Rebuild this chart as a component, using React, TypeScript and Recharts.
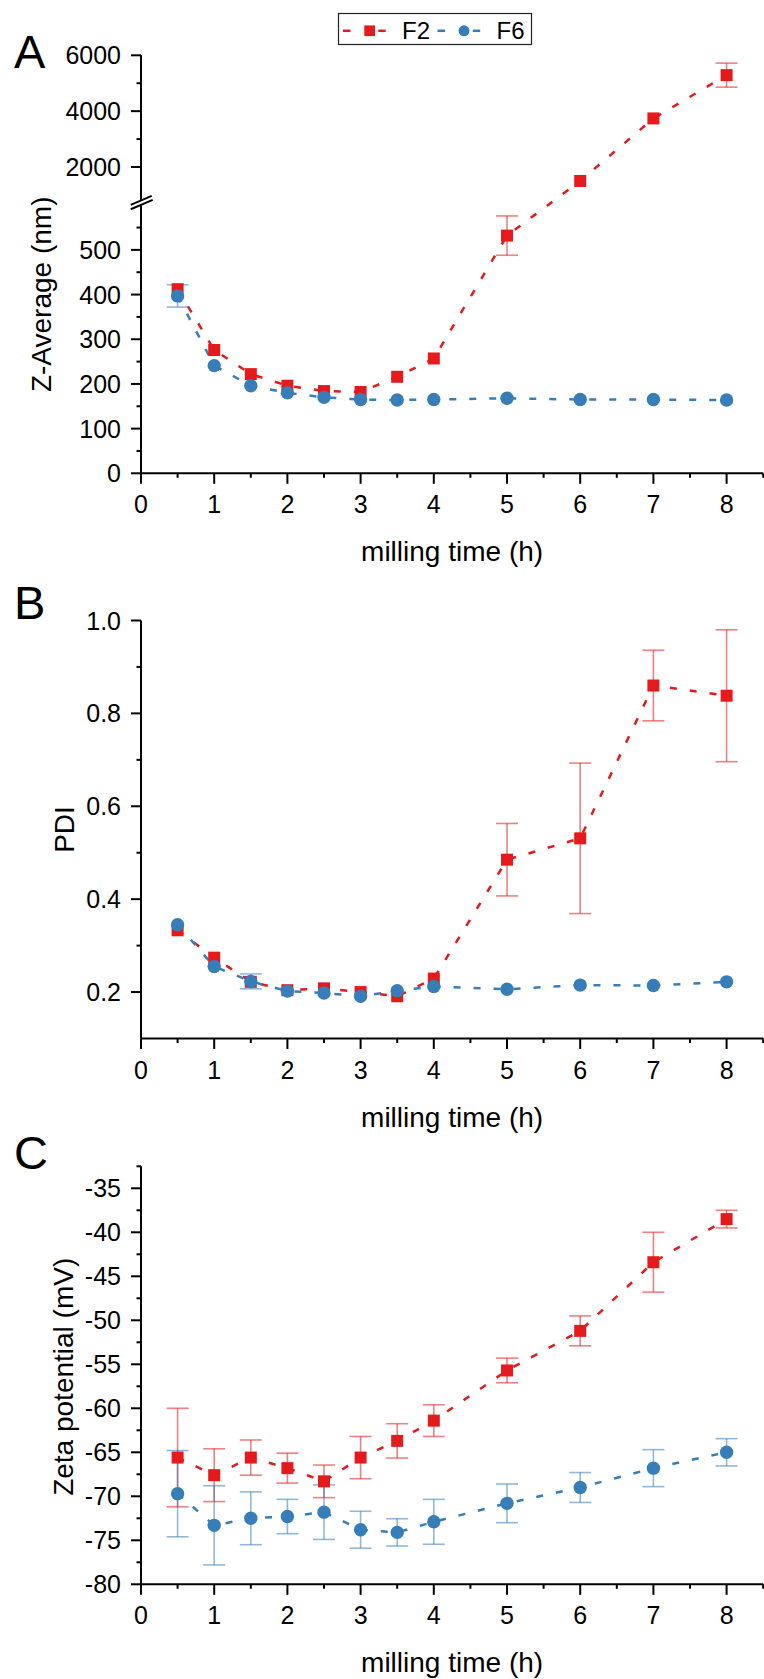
import type { ReactElement, ReactNode } from 'react';
import { ErrorBar, Line, LineChart, ReferenceLine, XAxis, YAxis } from 'recharts';

// milling time (h), shared by all three panels
const hours = [0.5, 1, 1.5, 2, 2.5, 3, 3.5, 4, 5, 6, 7, 8];

// A: Z-Average (nm); error 0 = hidden behind the marker
const zAvgF2 = [412, 276, 222, 196, 184, 182, 216, 257, 532, 1500, 3740, 5290];
const zAvgF2Err = [0, 0, 0, 0, 0, 0, 0, 0, 44, 0, 0, 430];
const zAvgF6 = [397, 241, 196, 180, 170, 165, 164, 165, 168, 165, 165, 164];
const zAvgF6Err = [25, 0, 0, 0, 0, 0, 0, 0, 0, 0, 0, 0];

// B: PDI
const pdiF2 = [0.333, 0.274, 0.222, 0.204, 0.208, 0.2, 0.191, 0.229, 0.485, 0.531, 0.86, 0.838];
const pdiF2Err = [0, 0, 0, 0, 0, 0, 0, 0, 0.078, 0.162, 0.076, 0.142];
const pdiF6 = [0.345, 0.255, 0.223, 0.202, 0.198, 0.191, 0.203, 0.212, 0.206, 0.215, 0.214, 0.222];
const pdiF6Err = [0, 0, 0.016, 0, 0, 0, 0, 0, 0, 0, 0, 0];

// C: Zeta potential (mV)
const zetaF2 = [-65.6, -67.6, -65.6, -66.8, -68.3, -65.6, -63.7, -61.4, -55.7, -51.2, -43.4, -38.5];
const zetaF2Err = [5.6, 3.0, 2.0, 1.7, 1.85, 2.4, 1.95, 1.8, 1.4, 1.7, 3.4, 1.0];
const zetaF6 = [-69.7, -73.3, -72.5, -72.3, -71.8, -73.8, -74.1, -72.9, -70.8, -69.0, -66.8, -65.0];
const zetaF6Err = [4.9, 4.5, 3.0, 1.95, 3.1, 2.1, 1.55, 2.55, 2.2, 1.7, 2.1, 1.55];

// tick values
const xTicks = [0, 0.5, 1, 1.5, 2, 2.5, 3, 3.5, 4, 4.5, 5, 5.5, 6, 6.5, 7, 7.5, 8, 8.5];
const zTicks = [0, 50, 100, 150, 200, 250, 300, 350, 400, 450, 500, 550, 2000, 3000, 4000, 5000, 6000];
const zLabelled = [0, 100, 200, 300, 400, 500, 2000, 4000, 6000];
const pdiTicks = [0.2, 0.3, 0.4, 0.5, 0.6, 0.7, 0.8, 0.9, 1.0];
const zetaTicks = [-80, -77.5, -75, -72.5, -70, -67.5, -65, -62.5, -60, -57.5, -55, -52.5, -50, -47.5, -45, -42.5, -40, -37.5, -35, -32.5];

const RED = '#E41A1C';
const BLUE = '#377EB8';
const FONT = '"Liberation Sans", Arial, Helvetica, sans-serif';

const PLOT_H = 418;
const Y_AXIS_W = 141;
const X_MAX = 8.5;

// broken y axis for panel A: 0-600 linear, then 1000-6000 compressed 16x
const BREAK_LOW = 600;
const BREAK_HIGH = 1000;
const BREAK_GAP = 23;
const UPPER_SCALE = 1 / 16;
const toBroken = (v: number) =>
  v <= BREAK_LOW ? v : BREAK_LOW + BREAK_GAP + (v - BREAK_HIGH) * UPPER_SCALE;
const fromBroken = (d: number) =>
  d <= BREAK_LOW ? d : BREAK_HIGH + (d - BREAK_LOW - BREAK_GAP) / UPPER_SCALE;

type Row = { x: number; f2: number; f2e?: number[]; f6: number; f6e?: number[] };

function buildRows(
  f2: number[],
  f2e: number[],
  f6: number[],
  f6e: number[],
  tf: (v: number) => number = (v) => v,
): Row[] {
  const errPair = (v: number, e: number) =>
    e > 0 ? [tf(v) - tf(v - e), tf(v + e) - tf(v)] : undefined;
  return hours.map((x, i) => ({
    x,
    f2: tf(f2[i]),
    f2e: errPair(f2[i], f2e[i]),
    f6: tf(f6[i]),
    f6e: errPair(f6[i], f6e[i]),
  }));
}

const zRows = buildRows(zAvgF2, zAvgF2Err, zAvgF6, zAvgF6Err, toBroken);
const pdiRows = buildRows(pdiF2, pdiF2Err, pdiF6, pdiF6Err);
const zetaRows = buildRows(zetaF2, zetaF2Err, zetaF6, zetaF6Err);

function XTick(props: any): ReactElement {
  const { x, y, payload } = props;
  const v = payload.value as number;
  const major = Number.isInteger(v);
  return (
    <g>
      <line x1={x} x2={x} y1={y} y2={y + (major ? 10.5 : 4.5)} stroke="#000" strokeWidth={2} />
      {major && (
        <text x={x} y={y + 40} textAnchor="middle" fontSize={25} fontFamily={FONT} fill="#000">
          {v}
        </text>
      )}
    </g>
  );
}

function makeYTick(isMajor: (v: number) => boolean, format: (v: number) => string) {
  return (props: any): ReactElement => {
    const { x, y, payload } = props;
    const v = payload.value as number;
    const major = isMajor(v);
    return (
      <g>
        <line x1={x - (major ? 10 : 4.5)} x2={x} y1={y} y2={y} stroke="#000" strokeWidth={2} />
        {major && (
          <text x={x - 20} y={y + 9} textAnchor="end" fontSize={25} fontFamily={FONT} fill="#000">
            {format(v)}
          </text>
        )}
      </g>
    );
  };
}

const squareDot = (p: any) => (
  <rect key={`s${p.index}`} x={p.cx - 6} y={p.cy - 6} width={12} height={12} fill={RED} />
);
const circleDot = (p: any) => (
  <circle key={`c${p.index}`} cx={p.cx} cy={p.cy} r={6.7} fill={BLUE} />
);

interface PanelProps {
  top: number;
  height: number;
  marginTop: number;
  data: Row[];
  yDomain: [number, number];
  yTicks: number[];
  yTick: (props: any) => ReactElement;
  yTitle: string;
  yTitleX: number;
  yTitleDy: number;
  yAxisLine?: boolean;
  children?: ReactNode;
}

function Panel({
  top,
  height,
  marginTop,
  data,
  yDomain,
  yTicks,
  yTick,
  yTitle,
  yTitleX,
  yTitleDy,
  yAxisLine = true,
  children,
}: PanelProps): ReactElement {
  const plotBottom = marginTop + PLOT_H;
  const xCenter = (Y_AXIS_W + 763.2) / 2;
  return (
    <div style={{ position: 'absolute', left: 0, top, width: 764, height }}>
      <LineChart
        width={764}
        height={height}
        data={data}
        margin={{ top: marginTop, right: 0.8, bottom: 0, left: 0 }}
      >
        <XAxis
          type="number"
          dataKey="x"
          domain={[0, X_MAX]}
          ticks={xTicks}
          interval={0}
          allowDataOverflow
          tickSize={0}
          tickMargin={0}
          tickLine={false}
          tick={XTick}
          axisLine={{ stroke: '#000', strokeWidth: 2 }}
          height={height - plotBottom}
          label={() => (
            <text
              x={xCenter}
              y={plotBottom + 88}
              textAnchor="middle"
              fontSize={28}
              fontFamily={FONT}
              fill="#000"
            >
              milling time (h)
            </text>
          )}
        />
        <YAxis
          type="number"
          domain={yDomain}
          ticks={yTicks}
          interval={0}
          allowDataOverflow
          width={Y_AXIS_W}
          tickSize={0}
          tickMargin={0}
          tickLine={false}
          tick={yTick}
          axisLine={yAxisLine ? { stroke: '#000', strokeWidth: 2 } : false}
          label={() => (
            <text
              transform={`translate(${yTitleX},${marginTop + PLOT_H / 2 + yTitleDy}) rotate(-90)`}
              textAnchor="middle"
              fontSize={28}
              fontFamily={FONT}
              fill="#000"
            >
              {yTitle}
            </text>
          )}
        />
        {children}
        <Line
          dataKey="f2"
          name="F2"
          type="linear"
          stroke={RED}
          strokeWidth={2.5}
          strokeDasharray="7 13"
          dot={squareDot}
          activeDot={false}
          isAnimationActive={false}
        >
          <ErrorBar dataKey="f2e" direction="y" width={11} stroke={RED} strokeOpacity={0.55} strokeWidth={1.6} />
        </Line>
        <Line
          dataKey="f6"
          name="F6"
          type="linear"
          stroke={BLUE}
          strokeWidth={2.5}
          strokeDasharray="7 13"
          dot={circleDot}
          activeDot={false}
          isAnimationActive={false}
        >
          <ErrorBar dataKey="f6e" direction="y" width={11} stroke={BLUE} strokeOpacity={0.55} strokeWidth={1.6} />
        </Line>
      </LineChart>
    </div>
  );
}

const legendItems = [
  { name: 'F2', color: RED, shape: 'square' },
  { name: 'F6', color: BLUE, shape: 'circle' },
];

function Overlay(): ReactElement {
  const letters = [
    { t: 'A', y: 68 },
    { t: 'B', y: 619 },
    { t: 'C', y: 1169 },
  ];
  return (
    <svg
      width={764}
      height={1679}
      style={{ position: 'absolute', left: 0, top: 0, pointerEvents: 'none' }}
    >
      {letters.map((l) => (
        <text key={l.t} x={14} y={l.y} fontSize={47} fontFamily={FONT} fill="#000">
          {l.t}
        </text>
      ))}
      <rect x={338.5} y={13.5} width={193} height={31} fill="#fff" stroke="#222" strokeWidth={1.2} />
      {legendItems.map((it, i) => {
        const x0 = 343 + i * 94.5;
        const cy = 30.8;
        return (
          <g key={it.name}>
            <line x1={x0} x2={x0 + 7.5} y1={cy} y2={cy} stroke={it.color} strokeWidth={2.5} />
            <line x1={x0 + 35.3} x2={x0 + 42.7} y1={cy} y2={cy} stroke={it.color} strokeWidth={2.5} />
            {it.shape === 'square' ? (
              <rect x={x0 + 21.3} y={cy - 5.4} width={10.7} height={10.7} fill={it.color} />
            ) : (
              <circle cx={x0 + 26.5} cy={cy} r={5.5} fill={it.color} />
            )}
            <text x={x0 + 59} y={38.5} fontSize={24} fontFamily={FONT} fill="#000">
              {it.name}
            </text>
          </g>
        );
      })}
    </svg>
  );
}

const axisSeg = { stroke: '#000', strokeWidth: 2 };

export default function App(): ReactElement {
  const zYTick = makeYTick(
    (d) => zLabelled.includes(Math.round(fromBroken(d))),
    (d) => String(Math.round(fromBroken(d))),
  );
  const pdiYTick = makeYTick(
    (v) => Math.round(v * 10) % 2 === 0,
    (v) => v.toFixed(1),
  );
  const zetaYTick = makeYTick(
    (v) => Number.isInteger(v),
    (v) => String(v),
  );
  return (
    <div style={{ position: 'absolute', left: 0, top: 0, width: 764, height: 1679, background: '#fff' }}>
      <Panel
        top={0}
        height={570}
        marginTop={55.3}
        data={zRows}
        yDomain={[0, toBroken(6000)]}
        yTicks={zTicks.map(toBroken)}
        yTick={zYTick}
        yTitle="Z-Average (nm)"
        yTitleX={51}
        yTitleDy={30}
        yAxisLine={false}
      >
        <ReferenceLine
          segment={[{ x: 0, y: 0 }, { x: 0, y: BREAK_LOW }]}
          ifOverflow="visible"
          {...axisSeg}
        />
        <ReferenceLine
          segment={[{ x: 0, y: 610.5 }, { x: 0, y: toBroken(6000) }]}
          ifOverflow="visible"
          {...axisSeg}
        />
        <ReferenceLine
          segment={[{ x: -0.14, y: 600.8 }, { x: 0.146, y: 621 }]}
          ifOverflow="visible"
          {...axisSeg}
        />
        <ReferenceLine
          segment={[{ x: -0.14, y: 591 }, { x: 0.16, y: 612 }]}
          ifOverflow="visible"
          {...axisSeg}
        />
      </Panel>
      <Panel
        top={570}
        height={565}
        marginTop={50.5}
        data={pdiRows}
        yDomain={[0.1, 1.0]}
        yTicks={pdiTicks}
        yTick={pdiYTick}
        yTitle="PDI"
        yTitleX={74}
        yTitleDy={0}
      />
      <Panel
        top={1135}
        height={544}
        marginTop={31.3}
        data={zetaRows}
        yDomain={[-80, -32.5]}
        yTicks={zetaTicks}
        yTick={zetaYTick}
        yTitle="Zeta potential (mV)"
        yTitleX={73}
        yTitleDy={1.5}
      />
      <Overlay />
    </div>
  );
}
